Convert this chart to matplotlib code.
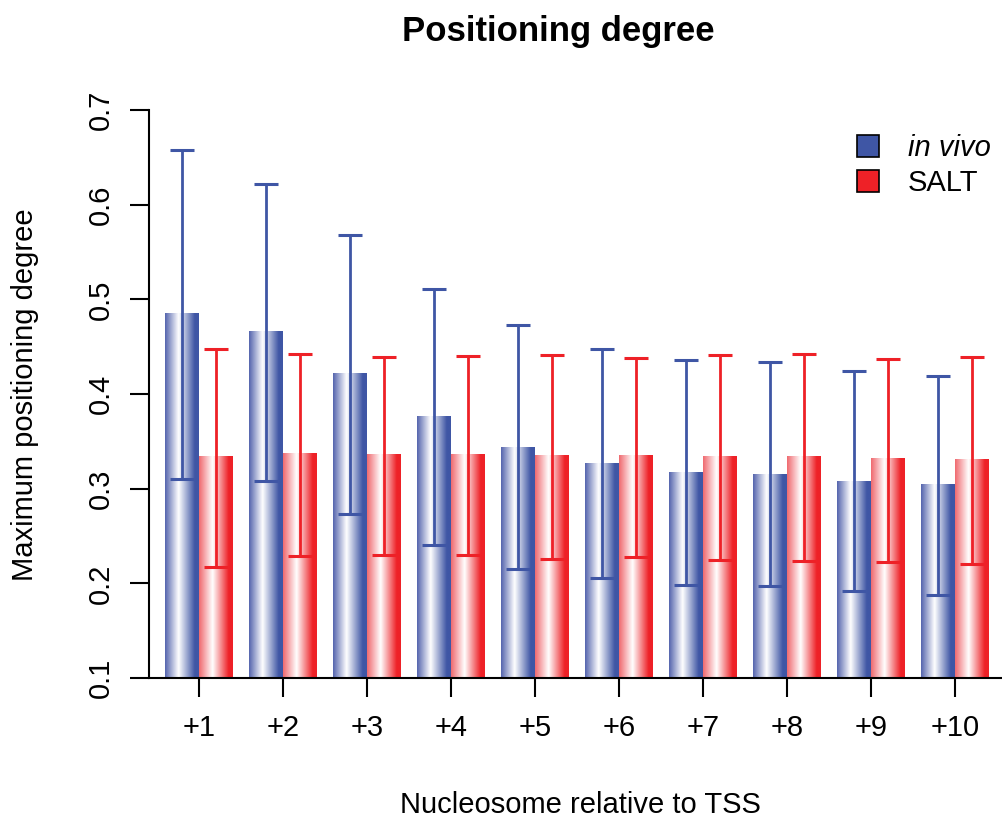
import matplotlib
matplotlib.use("Agg")
import matplotlib.pyplot as plt
import numpy as np
from matplotlib.colors import LinearSegmentedColormap
from matplotlib.patches import Patch

plt.rcParams["font.family"] = ["Liberation Sans", "DejaVu Sans"]
plt.rcParams["font.size"] = 21

# data
labels = ["+1", "+2", "+3", "+4", "+5", "+6", "+7", "+8", "+9", "+10"]
invivo_mean = [0.485, 0.466, 0.422, 0.376, 0.344, 0.327, 0.317, 0.315, 0.308, 0.304]
invivo_upper = [0.658, 0.622, 0.568, 0.511, 0.473, 0.448, 0.436, 0.434, 0.424, 0.419]
invivo_lower = [0.310, 0.308, 0.273, 0.240, 0.215, 0.206, 0.198, 0.197, 0.192, 0.188]
salt_mean = [0.334, 0.337, 0.336, 0.336, 0.335, 0.335, 0.334, 0.334, 0.332, 0.331]
salt_upper = [0.448, 0.442, 0.439, 0.440, 0.441, 0.438, 0.441, 0.442, 0.437, 0.439]
salt_lower = [0.217, 0.229, 0.230, 0.230, 0.226, 0.228, 0.225, 0.224, 0.223, 0.220]

blue = "#3F56A5"
red = "#EE2127"
ymin, ymax = 0.1, 0.7

fig = plt.figure(figsize=(10.03, 8.21), dpi=100)
ax = fig.add_axes([149 / 1003, 1 - 678 / 821, 1 - 149 / 1003, (678 - 110) / 821])

# shaded bars: colour at the left edge, white near 40%, full colour on the right
cm_blue = LinearSegmentedColormap.from_list(
    "b", [(0, "#5565AE"), (0.4, "white"), (0.88, blue), (1, blue)])
cm_red = LinearSegmentedColormap.from_list(
    "r", [(0, "#F06A70"), (0.4, "white"), (0.88, red), (1, red)])
grad = np.linspace(0, 1, 120)[np.newaxis, :]

period, offset, width = 2.47, 0.47, 1.0
idx = np.arange(len(labels))
blue_left = offset + period * idx
red_left = blue_left + width

for i in idx:
    ax.imshow(grad, extent=[blue_left[i], blue_left[i] + width, ymin, invivo_mean[i]],
              cmap=cm_blue, aspect="auto", interpolation="bilinear", zorder=2)
    ax.imshow(grad, extent=[red_left[i], red_left[i] + width, ymin, salt_mean[i]],
              cmap=cm_red, aspect="auto", interpolation="bilinear", zorder=2)

im = np.array(invivo_mean)
sm = np.array(salt_mean)
ax.errorbar(blue_left + width / 2, im,
            yerr=[im - np.array(invivo_lower), np.array(invivo_upper) - im],
            fmt="none", ecolor=blue, elinewidth=2.0, capsize=8.3, capthick=2.2, zorder=3)
ax.errorbar(red_left + width / 2, sm,
            yerr=[sm - np.array(salt_lower), np.array(salt_upper) - sm],
            fmt="none", ecolor=red, elinewidth=2.0, capsize=8.3, capthick=2.2, zorder=3)

ax.set_xlim(0, 854 / 34)
ax.set_ylim(ymin, ymax)
ax.set_xticks(red_left)
ax.set_xticklabels(labels)
ax.set_yticks([0.1, 0.2, 0.3, 0.4, 0.5, 0.6, 0.7])
ax.set_yticklabels(["0.1", "0.2", "0.3", "0.4", "0.5", "0.6", "0.7"],
                   rotation=90, va="center")

for s in ["top", "right"]:
    ax.spines[s].set_visible(False)
ax.spines["left"].set_bounds(ymin, ymax)
ax.spines["left"].set_linewidth(1.5)
ax.spines["bottom"].set_linewidth(1.5)
ax.tick_params(axis="both", length=13.7, width=1.5)
ax.tick_params(axis="y", pad=11)
ax.tick_params(axis="x", pad=12)

ax.set_ylabel("Maximum positioning degree")
ax.yaxis.label.set_va("center")
ax.yaxis.set_label_coords((25 - 149) / 854, 0.498)
ax.set_xlabel("Nucleosome relative to TSS")
ax.xaxis.label.set_va("center")
ax.xaxis.set_label_coords((580 - 149) / 854, (678 - 805) / 568)

fig.text(558.5 / 1003, 1 - 31 / 821, "Positioning degree", ha="center", va="center",
         fontsize=25, fontweight="bold")

handles = [Patch(facecolor=blue, edgecolor="black", linewidth=1.2),
           Patch(facecolor=red, edgecolor="black", linewidth=1.2)]
leg = ax.legend(handles, ["in vivo", "SALT"], loc="upper left",
                bbox_to_anchor=(857 / 1003, 1 - 134 / 821), bbox_transform=fig.transFigure,
                frameon=False, borderpad=0, borderaxespad=0, handlelength=0.75,
                handleheight=0.75, handletextpad=1.0, labelspacing=0.25)
leg.get_texts()[0].set_fontstyle("italic")

fig.savefig("out.png", dpi=100)
